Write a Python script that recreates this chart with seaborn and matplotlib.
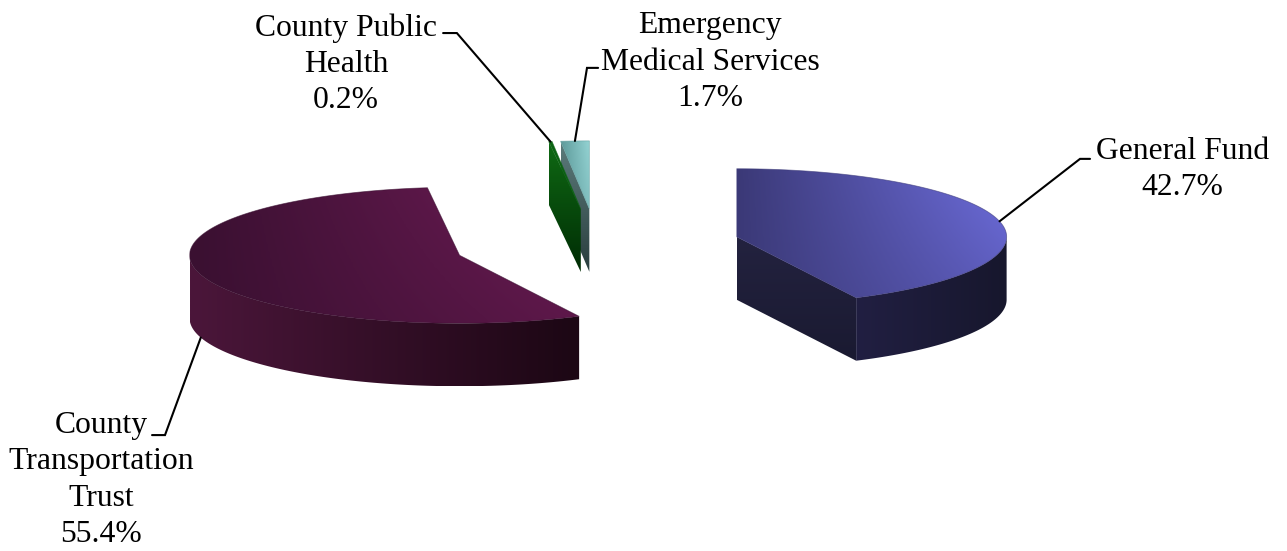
import numpy as np
import matplotlib
matplotlib.use("Agg")
import matplotlib.pyplot as plt
from matplotlib.patches import Polygon
import seaborn as sns

# Budget share by fund (percent), clockwise from 12 o'clock
funds = ["General Fund", "County\nTransportation\nTrust",
         "County Public\nHealth", "Emergency\nMedical Services"]
shares = [42.7, 55.4, 0.2, 1.7]
pct_labels = ["42.7%", "55.4%", "0.2%", "1.7%"]

# (start, end) colours of the gradients on each face
top_colors = [("#3b3977", "#6e6ede"), ("#3a1031", "#701c57"),
              ("#0d6514", "#0a5a10"), ("#5e9b9b", "#95d4d4")]
side_colors = [("#211f42", "#17172d"), ("#4b163a", "#1c0714"),
               ("#0a5010", "#002a04"), ("#567474", "#2c4242")]
cut_colors = [("#23223f", "#1a1a31"), ("#3a1030", "#3a1030"),
              ("#0f6a14", "#002c04"), ("#5c7b7b", "#2a3e3e")]

# label placement: (text x, last-line baseline y, leader elbow, leader end)
label_layout = [
    (2.167, 0.185, (1.789, 0.319), (1.826, 0.319)),
    (-1.837, -1.100, (-1.600, -0.704), (-1.648, -0.704)),
    (-0.930, 0.507, (-0.519, 0.785), (-0.570, 0.785)),
    (0.419, 0.515, (-0.037, 0.656), (0.004, 0.656)),
]

RY = 0.252       # vertical squash of the tilted disc
DEPTH = 0.233    # slab thickness
EXPLODE = 0.531  # offset of every slice from the centre
START = 90.0

sns.set_theme(style="white")
plt.rcParams["font.family"] = ["Liberation Serif", "DejaVu Serif"]

fig = plt.figure(figsize=(12.87, 5.51), dpi=100)
ax = fig.add_axes([0, 0, 1, 1])
ax.set_xlim(-597 / 270, 690 / 270)
ax.set_ylim(-306 / 270, 245 / 270)
ax.axis("off")


def rim(cx, cy, th, z=0.0):
    return cx + np.cos(th), cy + RY * np.sin(th) + z


def shaded(poly_xy, colors, zorder, mode="x", shade_front=0.0):
    """Fill a polygon with a gradient made from a seaborn blend palette."""
    poly_xy = np.asarray(poly_xy)
    patch = Polygon(poly_xy, closed=True, facecolor="none",
                    edgecolor="none", zorder=zorder)
    ax.add_patch(patch)
    x0, y0 = poly_xy.min(axis=0)
    x1, y1 = poly_xy.max(axis=0)
    nx, ny = 200, 80
    xx, yy = np.meshgrid(np.linspace(0, 1, nx), np.linspace(0, 1, ny))
    if mode == "x":
        v = xx
    else:
        v = 1 - yy
    v = v * (1 - shade_front * (1 - yy))
    cmap = sns.blend_palette(list(colors), as_cmap=True)
    im = ax.imshow(v, cmap=cmap, vmin=0, vmax=1, origin="lower",
                   extent=(x0, x1, y0, y1), aspect="auto",
                   interpolation="bilinear", zorder=zorder)
    im.set_clip_path(patch)
    return patch


cum = np.concatenate([[0], np.cumsum(shares)]) / sum(shares)
slices = []
for i in range(len(shares)):
    ta = np.radians(START - 360 * cum[i + 1])
    tb = np.radians(START - 360 * cum[i])
    mid = 0.5 * (ta + tb)
    cx = EXPLODE * np.cos(mid)
    cy = EXPLODE * RY * np.sin(mid)
    slices.append((i, ta, tb, mid, cx, cy))

# paint from back to front
order = sorted(slices, key=lambda s: -s[5])
for rank, (i, ta, tb, mid, cx, cy) in enumerate(order):
    z = 2 + rank * 5
    # radial cut faces that turn towards the viewer
    for th, visible in ((ta, np.cos(ta) > 1e-9), (tb, np.cos(tb) < -1e-9)):
        if visible:
            rx, ry_ = rim(cx, cy, th)
            face = [(cx, cy), (rx, ry_), (rx, ry_ - DEPTH), (cx, cy - DEPTH)]
            shaded(face, cut_colors[i], z, mode="y")
    # outer curved wall on the front half of the disc
    k0 = int(np.floor((ta + np.pi) / (2 * np.pi))) - 1
    for k in range(k0, k0 + 3):
        lo = max(ta, -np.pi + 2 * np.pi * k)
        hi = min(tb, 2 * np.pi * k)
        if hi - lo > 1e-6:
            th = np.linspace(lo, hi, 120)
            xs, ys = rim(cx, cy, th)
            wall = np.vstack([np.column_stack([xs, ys]),
                              np.column_stack([xs[::-1], ys[::-1] - DEPTH])])
            shaded(wall, side_colors[i], z + 1, mode="x")
    # top face
    th = np.linspace(ta, tb, 240)
    xs, ys = rim(cx, cy, th)
    top = np.vstack([[cx, cy], np.column_stack([xs, ys])])
    shaded(top, top_colors[i], z + 2, mode="x", shade_front=0.35)
    edge = Polygon(top, closed=True, facecolor="none",
                   edgecolor=top_colors[i][0], linewidth=0.6,
                   alpha=0.6, zorder=z + 3)
    ax.add_patch(edge)

# labels with leader lines to the middle of each slice
for (i, ta, tb, mid, cx, cy) in slices:
    tx, ty, elbow, end = label_layout[i]
    ax_, ay_ = rim(cx, cy, mid)
    if np.sin(mid) < 0:
        ay_ -= DEPTH
    ax.plot([ax_, elbow[0], end[0]], [ay_, elbow[1], end[1]],
            color="black", linewidth=1.5, zorder=40,
            solid_joinstyle="miter")
    ax.text(tx, ty, f"{funds[i]}\n{pct_labels[i]}", ha="center",
            va="baseline", multialignment="center", fontsize=22.8,
            color="black", linespacing=1.33, zorder=41)

fig.savefig("out.png", dpi=100, facecolor="white")
